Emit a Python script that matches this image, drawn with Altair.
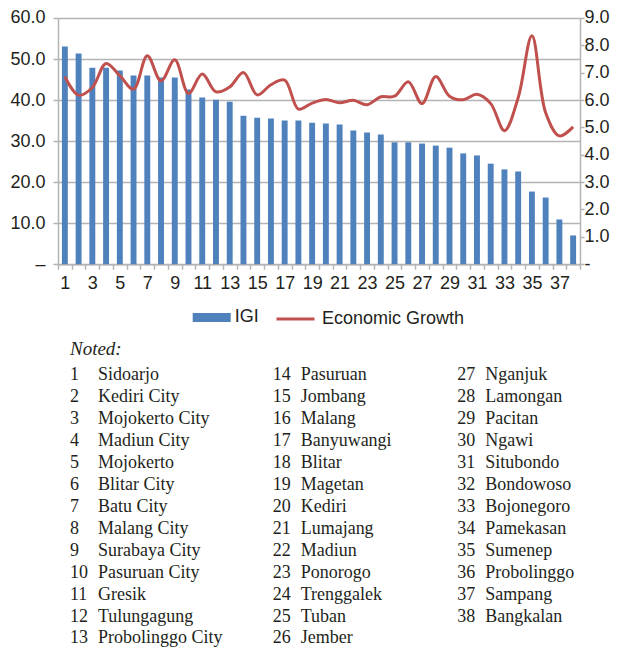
import altair as alt
import pandas as pd

regions = [
    "Sidoarjo", "Kediri City", "Mojokerto City", "Madiun City", "Mojokerto",
    "Blitar City", "Batu City", "Malang City", "Surabaya City", "Pasuruan City",
    "Gresik", "Tulungagung", "Probolinggo City", "Pasuruan", "Jombang",
    "Malang", "Banyuwangi", "Blitar", "Magetan", "Kediri",
    "Lumajang", "Madiun", "Ponorogo", "Trenggalek", "Tuban",
    "Jember", "Nganjuk", "Lamongan", "Pacitan", "Ngawi",
    "Situbondo", "Bondowoso", "Bojonegoro", "Pamekasan", "Sumenep",
    "Probolinggo", "Sampang", "Bangkalan",
]
igi = [53.05, 51.35, 47.9, 47.9, 47.2, 46.0, 46.0, 45.5, 45.5, 42.6,
       40.6, 40.1, 39.6, 36.2, 35.7, 35.5, 35.0, 35.0, 34.5, 34.3,
       34.05, 32.6, 32.1, 31.6, 29.7, 29.7, 29.4, 28.9, 28.4, 27.0,
       26.5, 24.5, 23.1, 22.6, 17.7, 16.25, 10.9, 7.0]
growth = [6.86, 6.18, 6.46, 7.34, 6.89, 6.40, 7.62, 6.70, 7.47, 6.24,
          6.95, 6.30, 6.48, 7.01, 6.19, 6.56, 6.73, 5.67, 5.89, 6.02,
          5.90, 5.99, 5.83, 6.12, 6.14, 6.67, 5.87, 6.86, 6.14, 6.01,
          6.21, 5.87, 4.88, 6.09, 8.35, 5.54, 4.69, 5.02]
left_ticks = [0, 10, 20, 30, 40, 50, 60]
right_ticks = [0, 1, 2, 3, 4, 5, 6, 7, 8, 9]
notes_title = "Noted:"
rows_per_col = 13

nums = list(range(1, len(regions) + 1))
df = pd.DataFrame({
    "no": nums,
    "IGI": igi,
    "growth": growth,
    "s1": "IGI",
    "s2": "Economic Growth",
})
notes = pd.DataFrame({
    "num": [str(n) for n in nums],
    "name": regions,
    "col": [(n - 1) // rows_per_col for n in nums],
    "row": [(n - 1) % rows_per_col for n in nums],
})
title_df = pd.DataFrame({"t": [notes_title], "col": [0], "row": [-1]})

SANS = "Liberation Sans"
SERIF = "Liberation Serif"
TXT = "#231f20"
GRID = "#b4b4b4"
BLUE = "#4F81BD"
RED = "#C0504D"

x_enc = alt.X(
    "no:O",
    scale=alt.Scale(paddingInner=0, paddingOuter=0),
    axis=alt.Axis(
        title=None, labelAngle=0, tickBand="extent",
        labelExpr="datum.value % 2 == 1 ? datum.label : ''",
        labelFont=SANS, labelFontSize=18, labelColor=TXT, labelPadding=5,
        tickSize=5, tickColor=GRID, tickWidth=1.5,
        domainColor=GRID, domainWidth=1.5, grid=False,
    ),
)

bars = alt.Chart(df).mark_bar(width={"band": 0.43}).encode(
    x=x_enc,
    y=alt.Y(
        "IGI:Q",
        scale=alt.Scale(domain=[0, 60], nice=False),
        axis=alt.Axis(
            title=None, orient="left", values=left_ticks,
            labelExpr="datum.value == 0 ? '\u2013' : format(datum.value, '.1f')",
            labelFont=SANS, labelFontSize=18, labelColor=TXT, labelPadding=8,
            tickSize=5, tickColor=GRID, tickWidth=1.5,
            domainColor=GRID, domainWidth=1.5,
            grid=True, gridColor=GRID, gridWidth=1.5,
        ),
    ),
    color=alt.Color(
        "s1:N",
        scale=alt.Scale(domain=["IGI"], range=[BLUE]),
        legend=alt.Legend(
            orient="none", legendX=134.7, legendY=280.5, title=None, padding=0,
            symbolType="M-1,-0.24H1V0.24H-1Z", symbolSize=1444,
            symbolStrokeWidth=0, symbolOpacity=1,
            labelFont=SANS, labelFontSize=18, labelColor=TXT, labelOffset=4,
        ),
    ),
)

line = alt.Chart(df).mark_line(interpolate="catmull-rom", strokeWidth=3).encode(
    x=alt.X("no:O"),
    y=alt.Y(
        "growth:Q",
        scale=alt.Scale(domain=[0, 9], nice=False),
        axis=alt.Axis(
            title=None, orient="right", values=right_ticks,
            labelExpr="datum.value == 0 ? '-' : format(datum.value, '.1f')",
            labelFont=SANS, labelFontSize=18, labelColor=TXT, labelPadding=0,
            tickSize=4, tickColor=GRID, tickWidth=1.5,
            domainColor=GRID, domainWidth=1.5, grid=False,
        ),
    ),
    stroke=alt.Stroke(
        "s2:N",
        scale=alt.Scale(domain=["Economic Growth"], range=[RED]),
        legend=alt.Legend(
            orient="none", legendX=217, legendY=280.5, title=None, padding=0,
            symbolType="stroke", symbolSize=1444, symbolStrokeWidth=3,
            labelFont=SANS, labelFontSize=18, labelColor=TXT, labelOffset=6,
        ),
    ),
)

main = alt.layer(bars, line).resolve_scale(y="independent")

nx = alt.X("col:Q", scale=alt.Scale(domain=[0, 1, 2], range=[12, 214.7, 399.3]), axis=None)
ny = alt.Y("row:Q", scale=alt.Scale(domain=[-1, 0, 12], range=[337.5, 362.0, 625.5], zero=False, nice=False), axis=None)

title_mark = alt.Chart(title_df).mark_text(
    align="left", baseline="alphabetic", font=SERIF, fontSize=19,
    fontStyle="italic", color=TXT,
).encode(x=nx, y=ny, text="t:N")

num_mark = alt.Chart(notes).mark_text(
    align="left", baseline="alphabetic", font=SERIF, fontSize=18, color=TXT,
).encode(x=nx, y=ny, text="num:N")

name_mark = alt.Chart(notes).mark_text(
    align="left", baseline="alphabetic", font=SERIF, fontSize=18, color=TXT, dx=28,
).encode(x=nx, y=ny, text="name:N")

notes_layer = alt.layer(title_mark, num_mark, name_mark)

chart = alt.layer(main, notes_layer).resolve_scale(
    x="independent", y="independent"
).properties(
    width=522, height=246.2,
    autosize=alt.AutoSizeParams(type="none"),
    padding={"left": 50, "top": 10, "right": 38, "bottom": 383},
).configure_view(stroke=None)

chart.save("out.html", embed_options={"renderer": "svg", "actions": False})
